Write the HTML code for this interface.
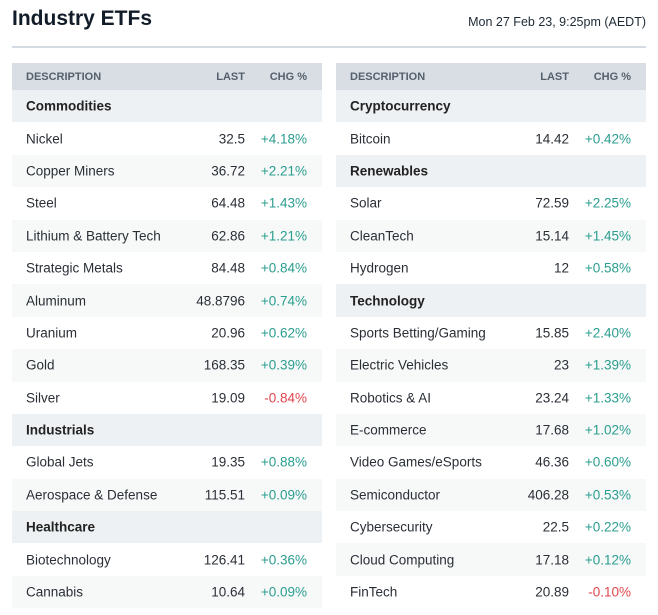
<!DOCTYPE html>
<html><head><meta charset="utf-8"><style>
body{margin:0;width:658px;height:615px;background:#fff;font-family:"Liberation Sans",Arial,sans-serif;color:#2a2f36;position:relative;overflow:hidden}
.title{position:absolute;left:12px;top:7px;font-size:21px;font-weight:bold;color:#111c28}
.date{position:absolute;right:12px;top:15px;font-size:12.5px;color:#1e2a36}
.sep{position:absolute;left:12px;top:46px;width:634px;height:2px;background:#d5dbe2}
.tbl{position:absolute;top:63px;width:310px}
.hdr{height:27px;background:#d8dee4;position:relative;font-size:11px;font-weight:bold;color:#56606c}
.row{height:32.4px;position:relative;font-size:13.5px}
.grp{background:#eef1f3;font-weight:bold;color:#222}
.alt{background:#f7f9f9}
.c{position:absolute;top:50%;transform:translateY(-50%);white-space:nowrap}
.d{left:14px}.l{right:77px;text-align:right}.g{right:15px;text-align:right}
.up{color:#2a9d8f}.dn{color:#e0464c}
</style></head><body>
<div class="title">Industry ETFs</div>
<div class="date">Mon 27 Feb 23, 9:25pm (AEDT)</div>
<div class="sep"></div>
<div class="tbl" id="left" style="left:12px"></div>
<div class="tbl" id="right" style="left:336px"></div>
<script>
const leftGroups=["Commodities","Industrials","Healthcare"];
const leftNames=[["Nickel","Copper Miners","Steel","Lithium & Battery Tech","Strategic Metals","Aluminum","Uranium","Gold","Silver"],["Global Jets","Aerospace & Defense"],["Biotechnology","Cannabis"]];
const leftLast=[["32.5","36.72","64.48","62.86","84.48","48.8796","20.96","168.35","19.09"],["19.35","115.51"],["126.41","10.64"]];
const leftChg=[[4.18,2.21,1.43,1.21,0.84,0.74,0.62,0.39,-0.84],[0.88,0.09],[0.36,0.09]];
const rightGroups=["Cryptocurrency","Renewables","Technology"];
const rightNames=[["Bitcoin"],["Solar","CleanTech","Hydrogen"],["Sports Betting/Gaming","Electric Vehicles","Robotics & AI","E-commerce","Video Games/eSports","Semiconductor","Cybersecurity","Cloud Computing","FinTech"]];
const rightLast=[["14.42"],["72.59","15.14","12"],["15.85","23","23.24","17.68","46.36","406.28","22.5","17.18","20.89"]];
const rightChg=[[0.42],[2.25,1.45,0.58],[2.40,1.39,1.33,1.02,0.60,0.53,0.22,0.12,-0.10]];
function build(id,groups,names,last,chg){
  const t=document.getElementById(id);
  const h=document.createElement('div');h.className='hdr';
  
  
  h.innerHTML='<span class="c d">DESCRIPTION</span><span class="c l">LAST</span><span class="c g">CHG %</span>';
  t.appendChild(h);
  groups.forEach((g,gi)=>{
    const r=document.createElement('div');r.className='row grp';
    
    
    r.innerHTML='<span class="c d">'+g+'</span>';t.appendChild(r);
    names[gi].forEach((n,i)=>{
      const row=document.createElement('div');row.className='row'+(i%2?' alt':'');
      
      
      const v=chg[gi][i];const s=(v>=0?'+':'')+v.toFixed(2)+'%';
      row.innerHTML='<span class="c d">'+n.replace('&','&amp;')+'</span><span class="c l">'+last[gi][i]+'</span><span class="c g '+(v>=0?'up':'dn')+'">'+s+'</span>';
      t.appendChild(row);
    });
  });
}
build('left',leftGroups,leftNames,leftLast,leftChg);
build('right',rightGroups,rightNames,rightLast,rightChg);
</script>
</body></html>
